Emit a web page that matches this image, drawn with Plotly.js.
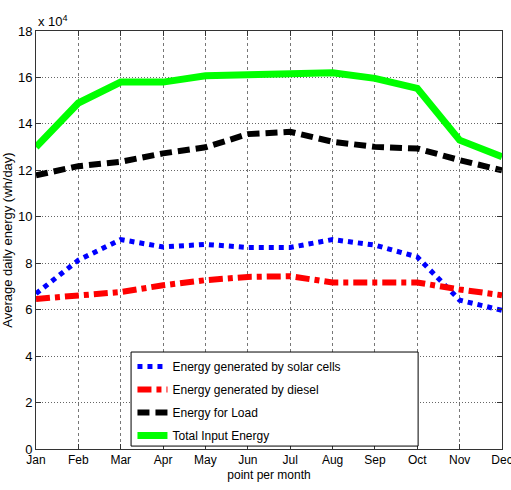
<!DOCTYPE html>
<html>
<head>
<meta charset="utf-8">
<script src="https://cdn.plot.ly/plotly-3.0.1.min.js"></script>
<style>html,body{margin:0;padding:0;background:#fff;}#chart{width:511px;height:490px;}</style>
</head>
<body>
<div id="chart"></div>
<script>
const months = ['Jan','Feb','Mar','Apr','May','Jun','Jul','Aug','Sep','Oct','Nov','Dec'];
const solar  = [66900, 81300, 90200, 87000, 88100, 86800, 86800, 90200, 87800, 82700, 64100, 59700];
const diesel = [64600, 66200, 67600, 70500, 72700, 74100, 74400, 71700, 71900, 71700, 68700, 66200];
const load   = [117900, 121800, 123700, 127300, 129900, 135600, 136600, 132300, 130100, 129400, 124400, 120000];
const total  = [130000, 149000, 158000, 158000, 160700, 161300, 161800, 162000, 159600, 155300, 133000, 125800];
const yTickVals = [0, 20000, 40000, 60000, 80000, 100000, 120000, 140000, 160000, 180000];
const yTickText = ['0','2','4','6','8','10','12','14','16','18'];
const seriesNames = ['Energy generated by solar cells','Energy generated by diesel','Energy for Load','Total Input Energy'];

const FONT = 'Liberation Sans, Arial, sans-serif';

const traces = [
  {x: months, y: solar, name: seriesNames[0], legendgroup: 'a', mode: 'lines', line: {color: '#0000ff', width: 5, dash: '5px,5px'}},
  {x: months, y: diesel, name: seriesNames[1], legendgroup: 'b', mode: 'lines', line: {color: '#ff0000', width: 6, dash: '14px,5px,5px,5px'}},
  {x: months, y: load, name: seriesNames[2], legendgroup: 'c', mode: 'lines', line: {color: '#000000', width: 6, dash: '12px,6px'}},
  {x: months, y: total, name: seriesNames[3], legendgroup: 'd', mode: 'lines', line: {color: '#00ff00', width: 7}}
];

const layout = {
  width: 511, height: 490,
  margin: {l: 36, r: 9, t: 31, b: 41},
  paper_bgcolor: '#fff', plot_bgcolor: '#fff',
  font: {family: FONT, size: 12, color: '#000'},
  showlegend: true,
  legend: {x: 0.207, y: 0.232, xanchor: 'left', yanchor: 'top', bgcolor: 'rgba(0,0,0,0)', borderwidth: 0,
           font: {family: FONT, size: 12, color: '#000'}, itemwidth: 30, tracegroupgap: 4},
  xaxis: {
    type: 'category', range: [0, 11], showline: true, linecolor: '#333', linewidth: 1, mirror: 'allticks',
    ticks: 'inside', ticklen: 5, tickcolor: '#333', showgrid: true, gridcolor: '#777', griddash: '3px,3px', gridwidth: 1,
    zeroline: false, tickfont: {family: FONT, size: 12, color: '#000'},
    title: {text: 'point per month', font: {family: FONT, size: 12, color: '#000'}, standoff: 4}
  },
  yaxis: {
    range: [0, 180000], tickvals: yTickVals, ticktext: yTickText, showline: true, linecolor: '#333', linewidth: 1,
    mirror: 'allticks', ticks: 'inside', ticklen: 5, tickcolor: '#333', showgrid: true, gridcolor: '#666',
    griddash: '1px,2px', gridwidth: 1, zeroline: false, tickfont: {family: FONT, size: 13, color: '#000'},
    title: {text: 'Average daily energy (wh/day)', font: {family: FONT, size: 13, color: '#000'}, standoff: 6}
  },
  shapes: [{type: 'rect', xref: 'paper', yref: 'paper', x0: 0.204, x1: 0.82, y0: 0.007, y1: 0.232,
            fillcolor: '#fff', line: {color: '#000', width: 1}, layer: 'above'}],
  annotations: [{xref: 'paper', yref: 'paper', x: 0, y: 1, xanchor: 'left', yanchor: 'bottom', showarrow: false,
                 text: 'x 10<sup>4</sup>', font: {family: FONT, size: 13, color: '#000'}, yshift: 0}]
};

Plotly.newPlot('chart', traces, layout, {displayModeBar: false, staticPlot: true});
</script>
</body>
</html>
